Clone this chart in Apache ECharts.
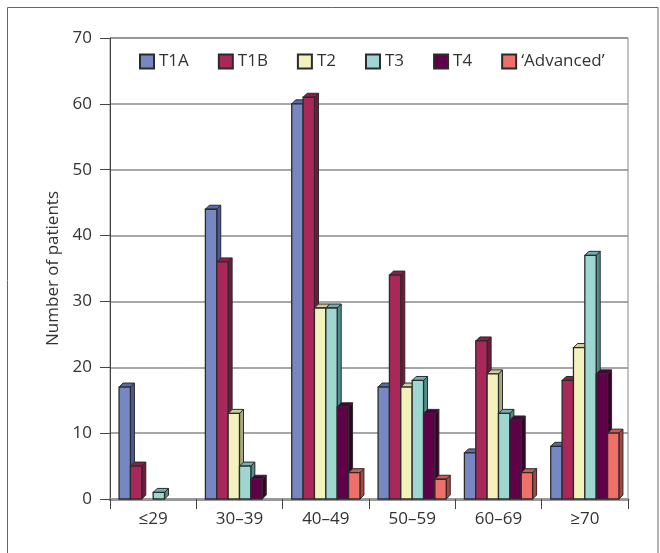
<!DOCTYPE html>
<html>
<head>
<meta charset="utf-8">
<script src="https://cdn.jsdelivr.net/npm/echarts@6/dist/echarts.min.js"></script>
<style>
  html, body { margin: 0; padding: 0; background: #fff; }
  #chart { width: 660px; height: 553px; }
</style>
</head>
<body>
<div id="chart"></div>
<script>
// Age groups on the x axis
const categories = ['≤29', '30–39', '40–49', '50–59', '60–69', '≥70'];
// Stage names, in legend order
const stageNames = ['T1A', 'T1B', 'T2', 'T3', 'T4', '‘Advanced’'];
// Patient counts per age group
const t1a = [17, 44, 60, 17, 7, 8];
const t1b = [5, 36, 61, 34, 24, 18];
const t2 = [0, 13, 29, 17, 19, 23];
const t3 = [1, 5, 29, 18, 13, 37];
const t4 = [0, 3, 14, 13, 12, 19];
const advanced = [0, 0, 4, 3, 4, 10];
// Y axis ticks
const yTicks = [0, 10, 20, 30, 40, 50, 60, 70];

const stageValues = [t1a, t1b, t2, t3, t4, advanced];
const stageColors = ['#7787c2', '#a8285a', '#f3f2bc', '#9ed6d2', '#5f0049', '#ee7068'];
const sideColors  = ['#4a5a94', '#6e1a3b', '#a9a886', '#4e8f8b', '#3a002c', '#a8473f'];
const topColors   = ['#5a6aa8', '#8a2048', '#cfcd9a', '#6fb0ac', '#4a003a', '#c95a52'];

const FONT = 'Open Sans';
const FS = 17;
const DEPTH = 4;
const GROUP = 0.79;

function makeRender(idx) {
  return function (params, api) {
    const cat = api.value(0);
    const val = api.value(1);
    if (!val) return null;
    const top = api.coord([cat, val]);
    const base = api.coord([cat, 0]);
    const band = api.size([1, 0])[0];
    const bw = band * GROUP / stageNames.length;
    const x0 = top[0] - band * GROUP / 2 + idx * bw;
    const x1 = x0 + bw;
    const stroke = '#2b2b2b';
    return {
      type: 'group',
      children: [
        {
          type: 'polygon',
          shape: { points: [[x1, top[1]], [x1 + DEPTH, top[1] - DEPTH], [x1 + DEPTH, base[1] - DEPTH], [x1, base[1]]] },
          style: { fill: sideColors[idx], stroke: stroke, lineWidth: 1 }
        },
        {
          type: 'polygon',
          shape: { points: [[x0, top[1]], [x0 + DEPTH, top[1] - DEPTH], [x1 + DEPTH, top[1] - DEPTH], [x1, top[1]]] },
          style: { fill: topColors[idx], stroke: stroke, lineWidth: 1 }
        },
        {
          type: 'rect',
          shape: { x: x0, y: top[1], width: bw, height: base[1] - top[1] },
          style: { fill: stageColors[idx], stroke: stroke, lineWidth: 1.3 }
        }
      ]
    };
  };
}

const series = stageNames.map((name, i) => ({
  name: name,
  type: 'custom',
  renderItem: makeRender(i),
  itemStyle: { color: stageColors[i], borderColor: '#2b2b2b', borderWidth: 1 },
  encode: { x: 0, y: 1 },
  data: stageValues[i].map((v, c) => [c, v]),
  z: 3
}));

const chart = echarts.init(document.getElementById('chart'), null, { renderer: 'canvas' });
chart.setOption({
  animation: false,
  backgroundColor: '#fff',
  textStyle: { fontFamily: FONT },
  graphic: [
    {
      type: 'rect',
      left: 5, top: 5,
      shape: { width: 650.5, height: 546 },
      style: { fill: 'none', stroke: '#666', lineWidth: 1 },
      silent: true
    }
  ],
  legend: {
    left: 134,
    top: 48,
    itemGap: 29,
    itemWidth: 14,
    itemHeight: 14,
    icon: 'rect',
    textStyle: { fontFamily: FONT, fontSize: FS, color: '#333', padding: [0, 0, 0, 0] },
    data: stageNames
  },
  grid: {
    left: 110, right: 32, top: 38, bottom: 54,
    show: true, borderColor: '#888', borderWidth: 1
  },
  xAxis: {
    type: 'category',
    data: categories,
    boundaryGap: true,
    axisLine: { show: true, lineStyle: { color: '#999', width: 3 } },
    axisTick: { show: true, length: 10, lineStyle: { color: '#444' } },
    axisLabel: { fontFamily: FONT, fontSize: FS, color: '#333', margin: 12 },
    splitLine: { show: false }
  },
  yAxis: {
    type: 'value',
    min: 0, max: 70, interval: 10,
    name: 'Number of patients',
    nameLocation: 'middle',
    nameGap: 44,
    nameTextStyle: { fontFamily: FONT, fontSize: FS, color: '#333' },
    axisLine: { show: true, lineStyle: { color: '#444' } },
    axisTick: { show: true, length: 10, lineStyle: { color: '#444' } },
    axisLabel: { fontFamily: FONT, fontSize: FS, color: '#333', margin: 18,
      formatter: v => (yTicks.indexOf(v) >= 0 ? String(v) : '') },
    splitLine: { show: true, lineStyle: { color: '#8a8a8a', width: 1.5 } }
  },
  series: series
});
</script>
</body>
</html>
